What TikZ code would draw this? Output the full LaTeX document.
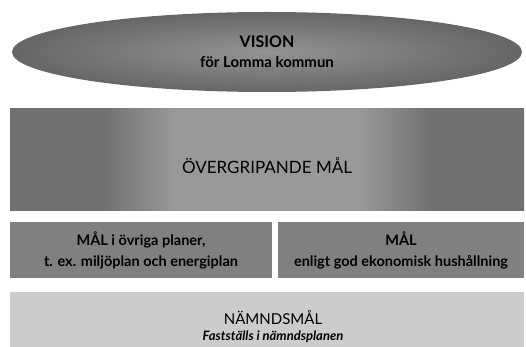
\documentclass[tikz,border=0pt]{standalone}
\usepackage{fontspec}
\setmainfont{Lato}
\usetikzlibrary{shapes.geometric}
\pgfdeclarehorizontalshading{sidebands}{100bp}{color(0bp)=(black!56); color(34bp)=(black!56);
  color(41bp)=(black!40); color(59bp)=(black!40); color(66bp)=(black!56); color(100bp)=(black!56)}
\tikzset{
  level/.style={draw=none, inner sep=0pt, align=center, text=black},
  leveltext/.style={inner sep=0pt, align=center, text=black},
}
\begin{document}
\begin{tikzpicture}[x=1pt,y=-1pt]
            \useasboundingbox (0,0) rectangle (526,347);

            \node[level, ellipse, minimum width=510pt, minimum height=80pt,
                  inner color=black!42, outer color=black!60,
                  font=\fontsize{15}{20}\selectfont\bfseries]
                (vision) at (267,52)
                {{\fontsize{16}{20}\selectfont VISION}\\för Lomma kommun};

            \node[level, shading=sidebands, minimum width=514pt, minimum height=101pt]
                (overgrip) at (267,159.5) {};
            \node[leveltext, font=\fontsize{17}{20}\selectfont, yshift=-6pt]
                (overgriptext) at (overgrip.center) {ÖVERGRIPANDE MÅL};

            \node[level, fill=black!50, minimum width=262pt, minimum height=56pt,
                  font=\fontsize{14.5}{21}\selectfont\bfseries]
                (malplan) at (141,250)
                {MÅL i övriga planer,\\t. ex. miljöplan och energiplan};
            \node[level, fill=black!50, minimum width=246pt, minimum height=56pt,
                  font=\fontsize{14.5}{21}\selectfont\bfseries]
                (malekon) at (401,250)
                {MÅL\\enligt god ekonomisk hushållning};

            \node[level, fill=black!20, minimum width=514pt, minimum height=55pt]
                (namnd) at (267,319.5) {};
            \node[leveltext, font=\fontsize{13}{16}\selectfont\bfseries\itshape, yshift=-7pt]
                (namndtext) at ([xshift=6pt]namnd.center)
                {{\fontsize{15}{16}\selectfont\mdseries\upshape NÄMNDSMÅL}\\Fastställs i nämndsplanen};
        \end{tikzpicture}
\end{document}
